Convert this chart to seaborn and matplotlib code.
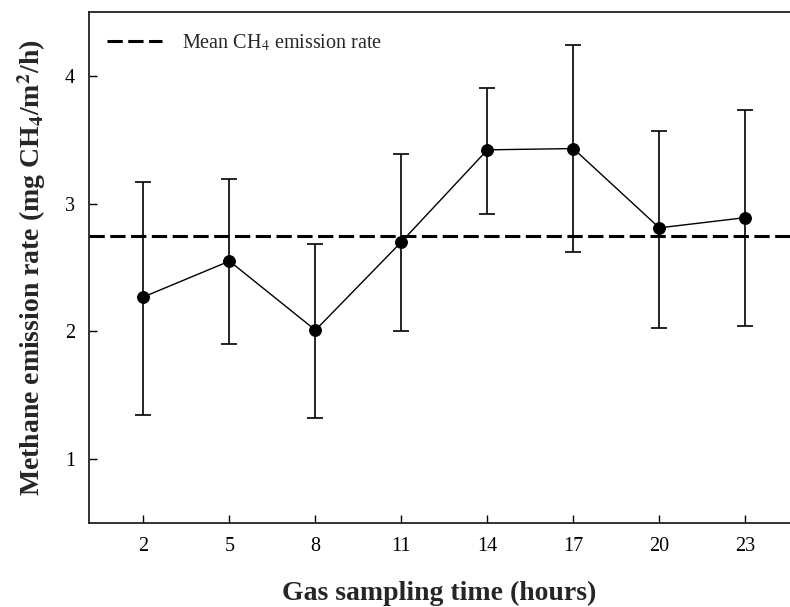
import matplotlib.pyplot as plt
import pandas as pd
import seaborn as sns

# Values
hours = [2, 5, 8, 11, 14, 17, 20, 23]
emission = [2.27, 2.55, 2.01, 2.70, 3.42, 3.43, 2.81, 2.89]
err_low = [1.35, 1.90, 1.32, 2.00, 2.92, 2.62, 2.03, 2.04]
err_high = [3.17, 3.19, 2.68, 3.39, 3.90, 4.24, 3.57, 3.73]
mean_rate = 2.75

df = pd.DataFrame({'hour': hours, 'rate': emission,
                   'low': err_low, 'high': err_high})

sns.set_style('ticks')
plt.rcParams['font.family'] = ['Liberation Serif', 'DejaVu Serif']
plt.rcParams['mathtext.fontset'] = 'stix'

fig = plt.figure(figsize=(7.9, 6.07), dpi=100)
ax = fig.add_axes([0.1127, 0.1379, 0.8873, 0.8428])

#error bars first, then line + markers on top
ax.errorbar(df['hour'], df['rate'],
            yerr=[df['rate'] - df['low'], df['high'] - df['rate']],
            fmt='none', ecolor='black', elinewidth=1.2, capsize=5.5,
            capthick=1.2, zorder=2)

sns.lineplot(data=df, x='hour', y='rate', color='black', linewidth=1,
             marker='o', markersize=8.5, markeredgecolor='black',
             ax=ax, zorder=3)

ax.axhline(mean_rate, color='black', linewidth=2.2,
           linestyle=(0, (5, 1.8)), label='Mean CH$_4$ emission rate',
           zorder=1)

ax.set_xlim(0.1, 24.56)
ax.set_ylim(0.5, 4.5)
ax.set_xticks(hours)
ax.set_yticks([1, 2, 3, 4])

for side in ['left', 'bottom', 'top']:
    ax.spines[side].set_linewidth(1.3)
    ax.spines[side].set_color('#222222')
ax.spines['right'].set_visible(False)

ax.tick_params(direction='in', length=6, width=1, labelsize=14.5,
               colors='black', pad=10)
ax.tick_params(axis='y', pad=10)
ax.tick_params(top=False, right=False)

ax.set_xlabel('Gas sampling time (hours)', fontsize=20, fontweight='bold',
              labelpad=18)
ax.set_ylabel(r'Methane emission rate (mg CH$_\mathbf{4}$/m$^\mathbf{2}$/h)',
              fontsize=20, fontweight='bold', labelpad=12)

ax.legend(loc='upper left', frameon=False, fontsize=14.5, handlelength=2.7,
          handletextpad=1.0, borderaxespad=0.5,
          bbox_to_anchor=(0.0, 0.995))

fig.savefig('out.png', dpi=100)
